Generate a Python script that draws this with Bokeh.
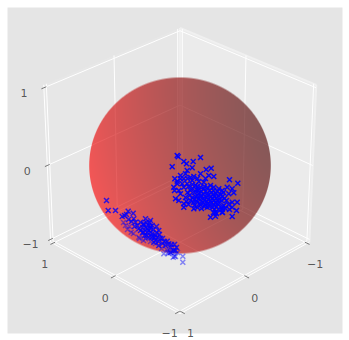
import numpy as np
from bokeh.plotting import figure
from bokeh.embed import file_html
from bokeh.resources import INLINE
from bokeh.core.properties import value

W, H = 349, 340

tick_values = [-1, 0, 1]
tick_labels = ["\u22121", "0", "1"]

# scatter positions (scene units, y downwards)
right_x = [176.7,177.7,183.3,186,192.7,200,171.7,191.7,186.7,185,200,205.7,210.7,213.3,208.3,193.3,180,174.3,176.7,180,183.3,173.3,174,176.7,181.7,183.3,178.3,180,186.7,191.7,195,198.3,203.3,200,203.3,210,213.3,218.3,221.7,226.7,229,237.3,231.7,228.3,233.3,231.7,236.7,231.7,236,231.7,215,210,221.7,221.7,223.3,216.7,213.3,175,178.3,183.3,183.3,193.3,200,206.7,215,
 188,190,192,194,196,198,189,192,195,198,201,203,205,207,209,211,213,215,217,200,203,206,208,210,212,214,216,218,220,222,190,193,196,199,202,205,208,211,213,215,217,219,221,224,204,207,197,192,187,185,186,188,194,197,201,204,209,212,216,218,214,218,213,216,226,228,225,229,223,190,197,205,187,
 198,201,204,207,210,194,197,213,206,200,221.5,222,222]
right_y = [155,156.3,161,163.3,161,157,166.3,167.3,170,173.3,173.3,169,167.7,176,175,176,175,178.3,180.7,178.3,178.3,186.7,190,183.3,183.3,186.7,190,193.3,183.3,180,185,181,181.7,186.7,188.3,185,186.7,188.3,190,186.7,179.3,182.7,188.3,193.3,192.3,201.7,201.7,206.7,210,216,215.7,216.7,211.7,208,205,203.3,200,198.3,200,203.3,206.7,208.3,204.3,206.7,211.7,
 186,190,188,192,189,193,195,197,196,198,191,194,191,193,190,192,190,193,191,199,198,197,199,196,198,196,198,195,194,196,200,202,201,203,202,204,203,202,204,202,200,199,200,198,186,187,186,184,192,197,201,204,205,207,208,206,206,207,206,204,209,209,212,213,200,204,208,209,192,177,178,178,178,
 190,195,200,195,200,199,195,194,201,196,209,206,212]

lower_near_x = [106,107.7,115,121.7,124,127.7,132.7,126,133.3,135,145,140,143.3,151.7,158.3,155,146.7,150,143.3,138.3,148.3,153.3,158.3,166.7,168.3,173.3,148,150,153,147,152,156,145,142,140,149,146,154,151,157,160,162,165,170,174,176,137,134,131,128,
 142,144,148,150,152,146,143,150,156,159,162,155,158,164,171,175,170]
lower_near_y = [200,210,210,216,215,210.7,212.7,214,218.3,221.7,218.3,221.7,223.3,225,230,235,228.3,231.7,231.7,228.3,236.7,241.7,245,240.7,243.3,250,225,228,229,232,233,232,227,227,230,222,222,237,237,237,238,243,245,247,244,247,225,226,221,219,
 232,235,230,226,236,235,224,220,226,234,238,240,241,241,244,250,252]
lower_far_x = [125,130.7,138.3,145,129,161,166,168,163.3,167.7,172,174,177,175,182.3,182.3,172.7,123,127,133,139,143,150,155]
lower_far_y = [225,231.7,236.7,238.3,226,248,249,253,253.3,251.7,251,255.7,252,256,255.7,261.7,256.7,222,229,233,238,240,241,243]

# projection of the 3D box
ELEV, AZIM = np.radians(30), np.radians(135)
B, DIST, SX, SY, CX, CY = 1.037, 20.0, 90.5, 87.5, 179.5, 165.0
R_V = np.array([-np.sin(AZIM), np.cos(AZIM), 0.0])
U_V = np.array([-np.sin(ELEV)*np.cos(AZIM), -np.sin(ELEV)*np.sin(AZIM), np.cos(ELEV)])
C_V = np.array([np.cos(ELEV)*np.cos(AZIM), np.cos(ELEV)*np.sin(AZIM), np.sin(ELEV)])

def proj(P):
    P = np.array(P, float)
    f = DIST / (DIST - P @ C_V)
    return CX + SX * (P @ R_V) * f, CY - SY * (P @ U_V) * f

def sy(v):
    return H - np.asarray(v, float)

p = figure(width=W, height=H, x_range=(0, W), y_range=(0, H), toolbar_location=None,
           output_backend="svg", min_border=0, margin=(0, 0, 0, 0),
           background_fill_color="white", border_fill_color="white", outline_line_color=None)
p.axis.visible = False
p.grid.visible = False

p.quad(left=[7], right=[342], top=[H-7], bottom=[H-333], fill_color="#E5E5E5", line_color=None)

def line3(a, b, color, width, alpha=1.0):
    (x0, y0), (x1, y1) = proj(a), proj(b)
    p.line([x0, x1], sy([y0, y1]), line_color=color, line_width=width, line_alpha=alpha)

def pane(c, color):
    pts = [proj(q) for q in c]
    p.patch([q[0] for q in pts], sy([q[1] for q in pts]), fill_color=color, line_color=None)

pane([(B,B,-B),(B,-B,-B),(B,-B,B),(B,B,B)], "#E7E7E7")
pane([(B,-B,-B),(-B,-B,-B),(-B,-B,B),(B,-B,B)], "#EBEBEB")
pane([(B,B,-B),(B,-B,-B),(-B,-B,-B),(-B,B,-B)], "#E9E9E9")

# pane edges
for a, b in [((B,-B,B),(-B,-B,B)), ((-B,-B,B),(-B,-B,-B)), ((B,-B,B),(B,-B,-B))]:
    line3(a, b, "#F0F0F0", 2)

for t in tick_values:
    for a, b in [((B,t,-B),(B,t,B)), ((B,-B,t),(B,B,t)),
                 ((t,-B,-B),(t,-B,B)), ((-B,-B,t),(B,-B,t)),
                 ((t,-B,-B),(t,B,-B)), ((-B,t,-B),(B,t,-B))]:
        line3(a, b, "white", 1)

# axis lines
line3((B,B,-B),(-B,B,-B), "white", 1)
line3((-B,B,-B),(-B,-B,-B), "white", 1)
line3((B,B,-B),(B,B,B), "white", 1)

# sphere
x_px = np.arange(CX-93, CX+93) + 0.5
y_px = np.arange(CY-91, CY+91) + 0.5
gx, gy = np.meshgrid(x_px, y_px)
nx, ny = (gx-CX)/90.8, (CY-gy)/88.0
rr = np.sqrt(nx**2 + ny**2)
cover = np.clip((1-rr)*89+0.5, 0, 1)
nz = np.sqrt(np.clip(1-rr**2, 0, 1))
t = (1 + (-0.943*nx - 0.289*ny - 0.167*nz)) / 2
img = np.zeros(gx.shape, dtype=np.uint32)
view = img.view(np.uint8).reshape(gx.shape + (4,))
view[..., 0] = np.clip(255*(0.3+0.7*t), 0, 255)
view[..., 3] = 255*0.63*cover
img = img[::-1]
p.image_rgba(image=[img], x=[x_px[0]-0.5], y=[H-y_px[-1]-0.5], dw=[len(x_px)], dh=[len(y_px)])

# scatter
p.scatter(lower_far_x, sy(lower_far_y), marker="x", size=7, line_color="#0000FF", line_width=1.5, line_alpha=0.45)
p.scatter(lower_near_x, sy(lower_near_y), marker="x", size=7, line_color="#0000FF", line_width=1.5, line_alpha=0.8)
p.scatter(right_x, sy(right_y), marker="x", size=7, line_color="#0000FF", line_width=1.5, line_alpha=0.95)

# ticks and labels
d = 0.035
segs = []
for t_ in tick_values:
    segs.append(((t_,B-d,-B),(t_,B+d,-B)))
    segs.append(((-B-d,t_,-B),(-B+d,t_,-B)))
    segs.append(((B,B-d,t_),(B,B+d,t_)))
for a, b in segs:
    line3(a, b, "#555555", 0.8)

lab_x = []; lab_y = []; lab_t = []
for tv, tl in zip(tick_values, tick_labels):
    for P, dx, dy in [((tv,B,-B), -8, 21), ((-B,tv,-B), 8, 21), ((B,B,tv), -20, 5)]:
        x_, y_ = proj(P)
        lab_x.append(x_ + dx); lab_y.append(y_ + dy); lab_t.append(tl)
p.text(lab_x, sy(lab_y), text=lab_t, text_color="#555555", text_font=value("DejaVu Sans"),
       text_font_size="11px", text_align="center", text_baseline="middle", text_alpha=0.99)

open("out.html", "w").write(file_html(p, INLINE))
